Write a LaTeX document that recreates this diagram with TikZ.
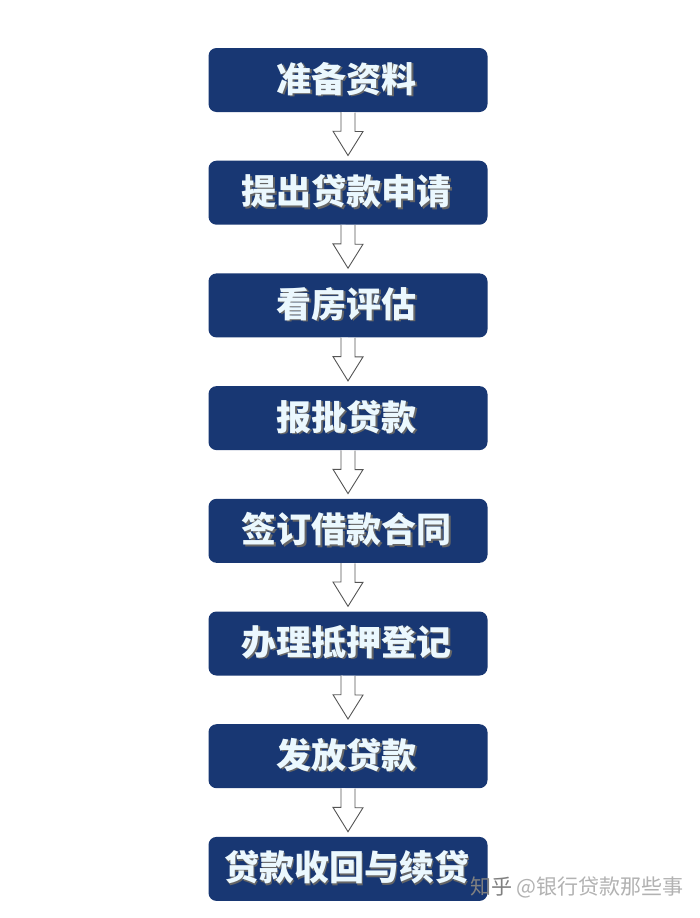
\documentclass[tikz,border=0pt]{standalone}
\usepackage{fontspec}
\newfontfamily\cjk{Noto Sans CJK SC}
\usetikzlibrary{calc}
\definecolor{boxblue}{RGB}{24,55,115}
\definecolor{arrowgray}{RGB}{85,85,85}
\tikzset{
  stepbox/.style={fill=boxblue, rounded corners=8pt, minimum width=279pt, minimum height=64pt,
    inner sep=0pt, text=white, font=\cjk\bfseries\fontsize{35}{35}\selectfont},
  hollow/.style={draw=arrowgray, fill=white, line width=0.9pt, line join=miter}
}
\begin{document}
\begin{tikzpicture}[x=1pt,y=-1pt]
  \useasboundingbox (0,0) rectangle (699,918);
  \fill[white] (0,0) rectangle (699,918); %背景

  % 流程框 (文字带阴影)
  \foreach \n/\t [count=\i from 0] in {a/准备资料,b/提出贷款申请,c/看房评估,d/报批贷款,
      e/签订借款合同,f/办理抵押登记,g/发放贷款,h/贷款收回与续贷}{
    \node[stepbox, text=black!60] (\n) at (348,80+112.7*\i) {\t};
    \node[stepbox, fill=none, text=white!92!cyan] at ($(\n)+(-1.3,-1.3)$) {\t};
  }

  % 空心箭头
  \foreach \p/\q in {a/b,b/c,c/d,d/e,e/f,f/g,g/h}
    \draw[hollow] ($(\p.south)+(-7,0)$) -- ++(0,19) -- ++(-8,0)
      -- ($(\q.north)+(0,-5)$) -- ++(15,-24) -- ++(-8,0) -- ++(0,-19);

  % 水印
  \node[anchor=west, font=\cjk\fontsize{21}{21}\selectfont, inner sep=0pt] (mark) at (470,887)
    {\textcolor{gray}{知乎}\ \textcolor{black!30}{@银行贷款那些事}};
\end{tikzpicture}
\end{document}
